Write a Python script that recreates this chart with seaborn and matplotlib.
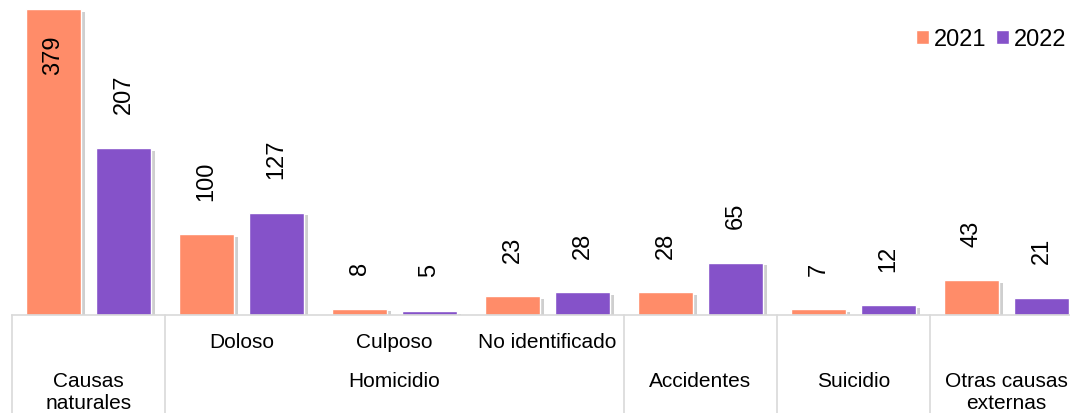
import pandas as pd
import matplotlib
matplotlib.use("Agg")
import matplotlib.pyplot as plt
import matplotlib.patheffects as pe
from matplotlib.patches import Patch
import seaborn as sns

# categorias (nivel inferior) y grupos (nivel superior)
categorias = ["Causas naturales", "Doloso", "Culposo", "No identificado",
              "Accidentes", "Suicidio", "Otras causas externas"]
subetiquetas = ["", "Doloso", "Culposo", "No identificado", "", "", ""]
grupos = ["Causas\nnaturales", "Homicidio", "Accidentes", "Suicidio",
          "Otras causas\nexternas"]
grupo_inicio = [0, 1, 4, 5, 6]
grupo_fin = [0, 3, 4, 5, 6]
anios = ["2021", "2022"]
valores_2021 = [379, 100, 8, 23, 28, 7, 43]
valores_2022 = [207, 127, 5, 28, 65, 12, 21]
colores = ["#FF8C69", "#8552C9"]

df = pd.DataFrame({
    "categoria": categorias * 2,
    "anio": [anios[0]] * len(categorias) + [anios[1]] * len(categorias),
    "valor": valores_2021 + valores_2022,
})

sns.set_style("white")
plt.rcParams["font.family"] = ["Liberation Sans", "DejaVu Sans"]
plt.rcParams["text.color"] = "black"
FS = 15      # etiquetas de categorias
FS_VAL = 17  # etiquetas de valores y leyenda

fig = plt.figure(figsize=(10.7, 4.14), dpi=100)
ax = fig.add_axes([12 / 1070, 98 / 414, 1071 / 1070, 316 / 414])

sns.barplot(data=df, x="categoria", y="valor", hue="anio", order=categorias,
            hue_order=anios, palette=colores, width=0.915, gap=0.21,
            saturation=1, legend=False, ax=ax)

ax.set_xlim(-0.5, 6.5)
ax.set_ylim(0, 391.6)
ax.set_xlabel("")
ax.set_ylabel("")
ax.set_xticks([])
ax.set_yticks([])
for s in ["top", "left", "right"]:
    ax.spines[s].set_visible(False)
ax.spines["bottom"].set_color("#D9D9D9")
ax.spines["bottom"].set_linewidth(1.2)

sombra = [pe.withSimplePatchShadow(offset=(3, -2), shadow_rgbFace="#888888", alpha=0.4)]
ymax = ax.get_ylim()[1]
for cont in ax.containers:
    for bar in cont:
        bar.set_path_effects(sombra)
        h = bar.get_height()
        x = bar.get_x() + bar.get_width() / 2
        if h > 0.85 * ymax:
            ax.annotate(f"{h:.0f}", (x, h), xytext=(0, -18), textcoords="offset points",
                        rotation=90, ha="center", va="top", fontsize=FS_VAL, color="black")
        else:
            ax.annotate(f"{h:.0f}", (x, h), xytext=(0, 25), textcoords="offset points",
                        rotation=90, ha="center", va="bottom", fontsize=FS_VAL, color="black")

trans = ax.get_xaxis_transform()
# separadores del eje de categorias
for b in [-0.5, 0.5, 3.5, 4.5, 5.5, 6.5]:
    ax.plot([b, b], [0, -0.32], transform=trans, clip_on=False,
            color="#D9D9D9", lw=1.2)

for i, lab in enumerate(subetiquetas):
    if lab:
        ax.text(i, -0.053, lab, transform=trans, ha="center", va="top",
                fontsize=FS, color="black")

for g, a, b in zip(grupos, grupo_inicio, grupo_fin):
    ax.text((a + b) / 2, -0.178, g, transform=trans, ha="center", va="top",
            fontsize=FS, linespacing=1.2, color="black")

handles = [Patch(facecolor=c, label=a) for c, a in zip(colores, anios)]
leg = fig.legend(handles=handles, loc="center right", bbox_to_anchor=(1066 / 1070, 1 - 40 / 414),
                 ncol=2, frameon=False, fontsize=FS_VAL, handlelength=0.55, handleheight=0.55,
                 handletextpad=0.2, columnspacing=0.4, borderpad=0, borderaxespad=0)
for t in leg.get_texts():
    t.set_color("black")

fig.savefig("out.png", dpi=100)
